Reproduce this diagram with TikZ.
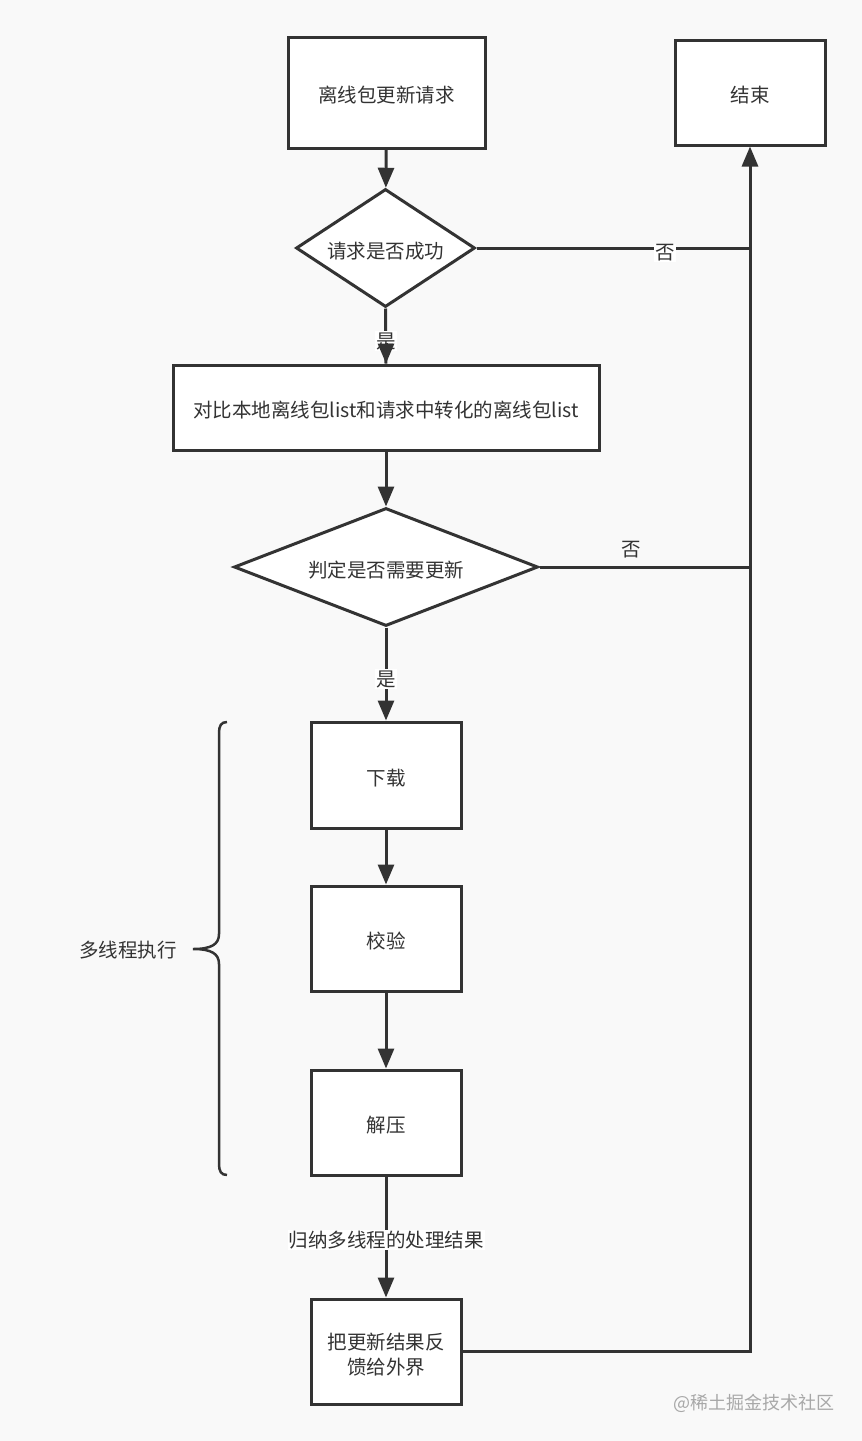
\documentclass[tikz,border=0pt]{standalone}
\usepackage{fontspec}
\setmainfont{Noto Sans CJK SC}
\usetikzlibrary{shapes.geometric,arrows.meta}
\definecolor{bg}{HTML}{F9F9F9}
\definecolor{ink}{HTML}{333333}
\definecolor{wm}{HTML}{A8A8A8}
\begin{document}
\begin{tikzpicture}[x=1pt,y=-1pt,
  every node/.style={text=ink,font=\fontsize{19.5}{25}\selectfont},
  box/.style={draw=ink,line width=3pt,fill=white,rectangle,inner sep=0pt,align=center,text height=20pt,text depth=0pt},
  dia/.style={draw=ink,line width=3pt,fill=white,diamond,inner sep=0pt,aspect=2.5,text height=21pt,text depth=0pt},
  arr/.style={draw=ink,line width=3pt,-{Triangle[length=20pt,width=16pt]}},
  ln/.style={draw=ink,line width=3pt},
  lbl/.style={fill=white,inner sep=1pt}]
\fill[bg] (0,0) rectangle (862,1441);
\useasboundingbox (0,0) rectangle (862,1441);

\node[box,minimum width=197pt,minimum height=111pt] (req) at (386.5,92.5) {离线包更新请求};
\node[box,minimum width=150pt,minimum height=105pt] (end) at (750,92.5) {结束};
\node[dia,minimum width=179pt,minimum height=118pt] (d1) at (385.5,248) {请求是否成功};
\node[box,minimum width=426pt,minimum height=85pt] (cmp) at (386,407.5) {对比本地离线包list和请求中转化的离线包list};
\node[dia,minimum width=304pt,minimum height=118pt] (d2) at (386,567) {判定是否需要更新};
\node[box,minimum width=150pt,minimum height=106pt] (dl) at (386,775) {下载};
\node[box,minimum width=150pt,minimum height=105pt] (jy) at (386,938.5) {校验};
\node[box,minimum width=150pt,minimum height=105pt] (jy2) at (386,1122.5) {解压};
\node[box,minimum width=150pt,minimum height=105pt,text height=45pt,text depth=0pt] (fb) at (386,1351.5) {把更新结果反\\馈给外界};

\draw[arr] (req) -- (d1);
\draw[ln] (d1.south) -- (cmp.north);
\node[lbl] (y1) at (386,341) {是};
\draw[arr] ([yshift=20.5pt]cmp.north) -- (cmp.north);
\draw[arr] (cmp) -- (d2);
\draw[arr] (d2) -- (dl);
\node[lbl] (y2) at (386,679) {是};
\draw[arr] (dl) -- (jy);
\draw[arr] (jy) -- (jy2);
\draw[arr] (jy2) -- (fb);
\node[lbl] (gn) at (386,1240) {归纳多线程的处理结果};

\coordinate (j1) at (d1.east -| end.south);
\coordinate (j2) at (d2.east -| end.south);
\draw[ln] (d1.east) -- (j1);
\node[lbl] (n1) at (665,253) {否};
\draw[ln] (d2.east) -- (j2);
\node (n2) at (631,550) {否};
\draw[arr] (fb.east) -| (end.south);

\draw[ln,line width=2.5pt] (227,722) .. controls (221,722) and (219,726) .. (219,733) -- (219,934)
  .. controls (219,944) and (212,949) .. (193,949)
  .. controls (212,949) and (219,954) .. (219,964) -- (219,1164)
  .. controls (219,1171) and (221,1175) .. (227,1175);
\node (mt) at (128,950) {多线程执行};
\node[text=wm,font=\fontsize{18}{22}\selectfont] (wmk) at (754,1403) {@稀土掘金技术社区};
\end{tikzpicture}
\end{document}
